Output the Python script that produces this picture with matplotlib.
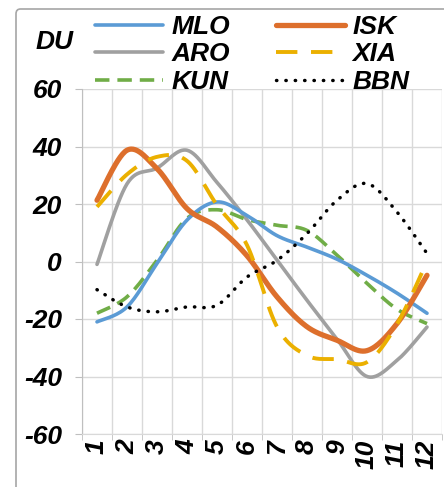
import numpy as np
import matplotlib
matplotlib.use("Agg")
import matplotlib.pyplot as plt
from matplotlib.patches import FancyBboxPatch

months = [1, 2, 3, 4, 5, 6, 7, 8, 9, 10, 11, 12]
month_labels = ["1", "2", "3", "4", "5", "6", "7", "8", "9", "10", "11", "12"]
MLO = [-21, -15.8, -0.7, 14.4, 20.7, 16, 9, 5, 0.8, -4.8, -11, -18]
ISK = [21.3, 38.7, 32.3, 18.4, 12, 2, -12.3, -22.7, -27.4, -31, -21.6, -4.8]
ARO = [-1, 27, 32.5, 38.7, 27.5, 14.5, 0.5, -13.5, -27, -40, -34.4, -22.8]
XIA = [19, 30.3, 36.4, 35, 19.6, 5.7, -22.7, -32.7, -34, -35, -21.8, 0]
KUN = [-18, -12.3, 0.4, 15, 18, 14.6, 12.6, 10.8, 2.2, -7.6, -16.6, -21.6]
BBN = [-9.8, -15.8, -17.5, -15.8, -15.2, -5.4, 0.4, 9.7, 21.3, 27.1, 17.2, 2.8]
yticks = [-60, -40, -20, 0, 20, 40, 60]


def smooth(xs, ys, n=30):
    xs = np.asarray(xs, float)
    ys = np.asarray(ys, float)
    P = np.column_stack([xs, ys])
    P = np.vstack([P[0], P, P[-1]])
    out = []
    for i in range(1, len(P) - 2):
        p0, p1, p2, p3 = P[i - 1], P[i], P[i + 1], P[i + 2]
        c1 = p1 + (p2 - p0) / 6.0
        c2 = p2 - (p3 - p1) / 6.0
        t = np.linspace(0, 1, n)[:, None]
        seg = ((1 - t) ** 3) * p1 + 3 * ((1 - t) ** 2) * t * c1 + 3 * (1 - t) * t ** 2 * c2 + t ** 3 * p2
        if i > 1:
            seg = seg[1:]
        out.append(seg)
    out = np.vstack(out)
    return out[:, 0], out[:, 1]


plt.rcParams['font.family'] = ['Liberation Sans', 'DejaVu Sans']

W, H = 444, 487
fig = plt.figure(figsize=(W / 100, H / 100), dpi=100)

# outer chart border
border = FancyBboxPatch((16 / W, -0.1), 1.1, 1 - 9 / H + 0.1,
                        boxstyle="round,pad=0,rounding_size=0.01",
                        transform=fig.transFigure, facecolor="none",
                        edgecolor="#a6a6a6", linewidth=1.2, zorder=-1)
fig.patches.append(border)

ax = fig.add_axes([82 / W, 53 / H, 360 / W, 345 / H])
ax.set_facecolor("none")

series = [
    ("MLO", MLO, dict(color="#5B9BD5", lw=2.6, ls="-", solid_capstyle="round")),
    ("ARO", ARO, dict(color="#A0A0A0", lw=2.6, ls="-", solid_capstyle="round")),
    ("KUN", KUN, dict(color="#70AD47", lw=2.6, ls=(0, (4, 2.2)))),
    ("ISK", ISK, dict(color="#DD6F2C", lw=3.8, ls="-", solid_capstyle="round")),
    ("XIA", XIA, dict(color="#EBB000", lw=2.8, ls=(0, (5.5, 3.5)))),
    ("BBN", BBN, dict(color="black", lw=2.5, ls=(0, (0.1, 2.6)), dash_capstyle="round")),
]
zorders = {"MLO": 5, "ARO": 3, "KUN": 4, "ISK": 6, "XIA": 7, "BBN": 8}
handles = []
for name, vals, st in series:
    sx, sy = smooth(months, vals)
    h, = ax.plot(sx, sy, label=name, zorder=zorders[name], **st)
    handles.append(h)

FS = 19
ax.set_xlim(0.5, 12.5)
ax.set_ylim(-60, 60)
ax.set_yticks(yticks)
ax.set_yticklabels([str(v) for v in yticks], fontsize=FS, fontweight="bold", fontstyle="italic")
ax.set_xticks(months)
ax.set_xticklabels(month_labels, rotation=90, fontsize=FS, fontweight="bold", fontstyle="italic", va="top", ha="center")
ax.set_xticks(np.arange(0.5, 13.0, 1.0), minor=True)
ax.tick_params(axis="x", which="major", length=0, pad=4)
ax.tick_params(axis="x", which="minor", length=4, color="#bfbfbf")
ax.tick_params(axis="y", length=5, color="#bfbfbf", pad=9.5)
ax.grid(True, axis="y", which="major", color="#d9d9d9", lw=1.0, zorder=0)
ax.grid(True, axis="x", which="minor", color="#d9d9d9", lw=1.0, zorder=0)
for s in ["top", "right"]:
    ax.spines[s].set_visible(False)
ax.spines["left"].set_color("#bfbfbf")
ax.spines["bottom"].set_color("#d9d9d9")

fig.text(55 / W, 1 - 42 / H, "DU", fontsize=FS, fontweight="bold", fontstyle="italic",
         ha="center", va="center")

leg = fig.legend(handles=handles, labels=[h.get_label() for h in handles], ncol=2,
                 loc="upper left", bbox_to_anchor=(71 / W, 1 + 9 / H),
                 frameon=False, handlelength=2.6, handletextpad=0.3,
                 columnspacing=1.75, labelspacing=0.14,
                 prop=dict(family="Liberation Sans", size=FS, weight="bold", style="italic"))

fig.savefig("out.png", dpi=100)
